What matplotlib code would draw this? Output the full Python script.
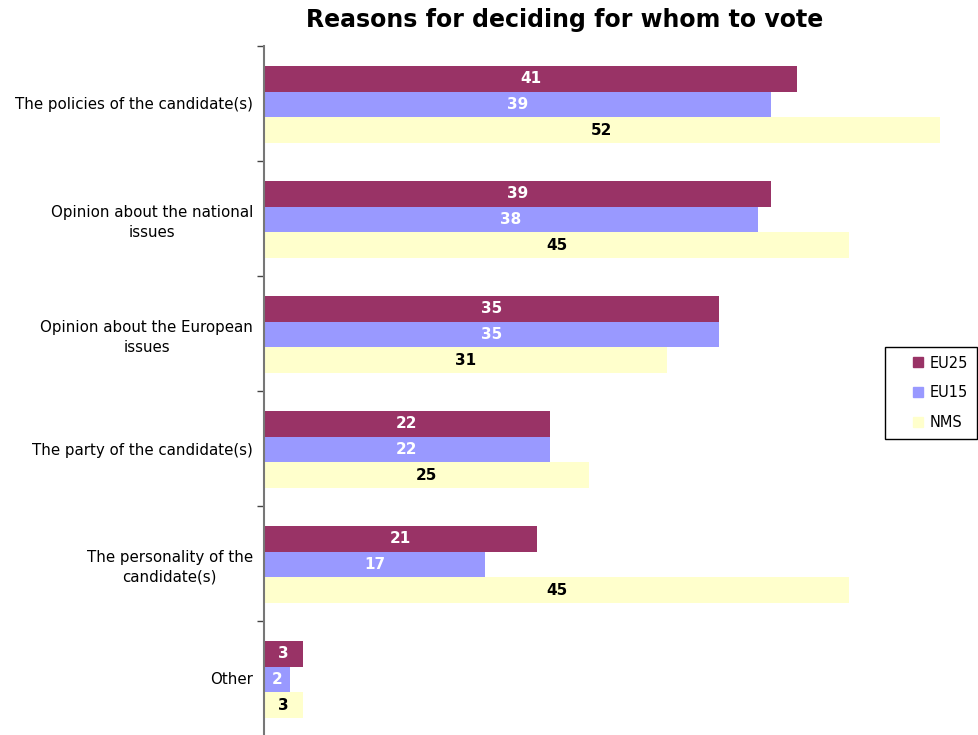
import matplotlib.pyplot as plt
from matplotlib.lines import Line2D
import numpy as np

categories = ['The policies of the candidate(s)',
              'Opinion about the national\nissues',
              'Opinion about the European\nissues',
              'The party of the candidate(s)',
              'The personality of the\ncandidate(s)',
              'Other']
series = ['EU25', 'EU15', 'NMS']
eu25 = [41, 39, 35, 22, 21, 3]
eu15 = [39, 38, 35, 22, 17, 2]
nms = [52, 45, 31, 25, 45, 3]

colors = ['#993366', '#9999FF', '#FFFFCC']
text_colors = ['white', 'white', 'black']

W, H = 979, 735
fig = plt.figure(figsize=(W / 100, H / 100), dpi=100)
ax = fig.add_axes([264 / W, (H - 736) / H, (W - 264) / W, 690 / H])

y = np.arange(len(categories)) + 0.5
bh = 0.224
for k, (name, vals) in enumerate(zip(series, [eu25, eu15, nms])):
    pos = y + (k - 1) * bh + 0.008
    bars = ax.barh(pos, vals, height=bh, color=colors[k], label=name)
    for b, v in zip(bars, vals):
        ax.text(v / 2, b.get_y() + bh / 2, str(v), ha='center', va='center',
                fontsize=11, fontweight='bold', color=text_colors[k])

ax.set_xlim(0, (W - 264) / 13)
ax.set_ylim(6, 0)
ax.set_yticks(np.arange(0, 7))
ax.set_yticklabels([])
ax.set_yticks(y, minor=True)
ax.set_yticklabels(categories, minor=True, fontsize=10.8,
                   multialignment='center', linespacing=1.4)
ax.tick_params(axis='y', which='minor', length=0, pad=8)
ax.tick_params(axis='y', which='major', length=5, width=1, color='#444444')
ax.set_xticks([])
for s in ['top', 'right', 'bottom']:
    ax.spines[s].set_visible(False)
ax.spines['left'].set_color('#777777')
ax.spines['left'].set_linewidth(1.5)

fig.text(565 / W, 1 - 20 / H, 'Reasons for deciding for whom to vote',
         ha='center', va='center', fontsize=17, fontweight='bold')

handles = [Line2D([], [], linestyle='none', marker='s', markersize=7.5,
                  markerfacecolor=c, markeredgecolor=c) for c in colors]
leg = fig.legend(handles, series, loc='upper left',
                 bbox_to_anchor=(885 / W, 1 - 347 / H),
                 fontsize=10.5, handlelength=3.3, handleheight=0.8,
                 labelspacing=1.0, borderpad=0.6, borderaxespad=0,
                 handletextpad=-0.85, fancybox=False,
                 edgecolor='black', framealpha=1)
leg.get_frame().set_linewidth(1)

fig.savefig('out.png', dpi=100)
